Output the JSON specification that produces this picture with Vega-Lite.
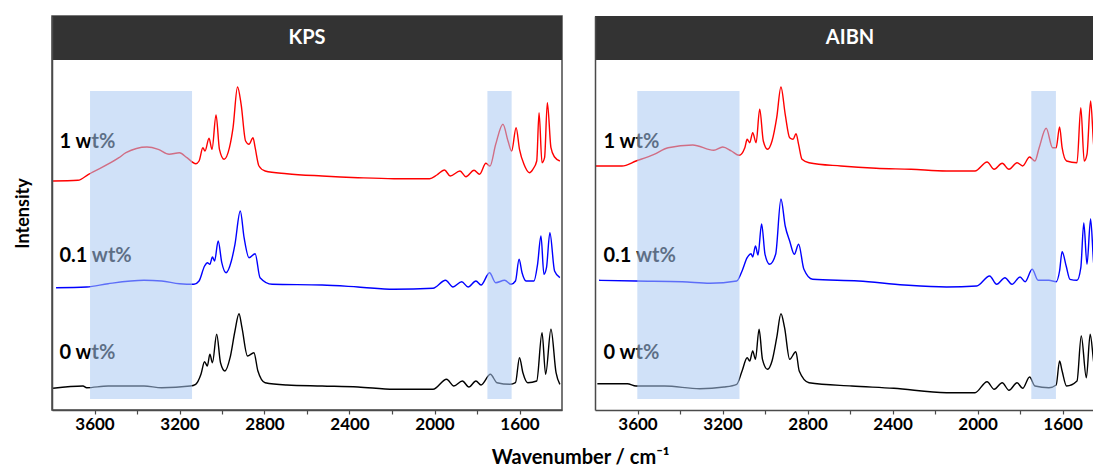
{
"$schema": "https://vega.github.io/schema/vega-lite/v6.json",
"autosize": {"type": "pad"},
"padding": {"left": 13, "top": 15, "right": 0, "bottom": 0},
"background": "white",
"config": {"font": "Lato", "view": {"stroke": null}},
"bounds": "flush",
"spacing": 33,
"title": {"text": "Wavenumber / cm⁻¹", "orient": "bottom", "anchor": "middle", "fontSize": 20, "fontWeight": "bold", "font": "Lato", "color": "#000000", "offset": 15, "dx": 27},
"datasets": {
"spectra": [
{"p":"KPS","s":"1 wt%","wn":3795,"v":229},{"p":"KPS","s":"1 wt%","wn":3678,"v":229.7},{"p":"KPS","s":"1 wt%","wn":3628,"v":235.7},{"p":"KPS","s":"1 wt%","wn":3485,"v":252.3},{"p":"KPS","s":"1 wt%","wn":3452,"v":257.3},{"p":"KPS","s":"1 wt%","wn":3353,"v":263},{"p":"KPS","s":"1 wt%","wn":3300,"v":260.7},{"p":"KPS","s":"1 wt%","wn":3249,"v":255.7},{"p":"KPS","s":"1 wt%","wn":3200,"v":257.3},{"p":"KPS","s":"1 wt%","wn":3165,"v":252.3},{"p":"KPS","s":"1 wt%","wn":3123,"v":246.3},{"p":"KPS","s":"1 wt%","wn":3108,"v":249},{"p":"KPS","s":"1 wt%","wn":3090,"v":262.3},{"p":"KPS","s":"1 wt%","wn":3080,"v":259},{"p":"KPS","s":"1 wt%","wn":3061,"v":271.7},{"p":"KPS","s":"1 wt%","wn":3047,"v":260.7},{"p":"KPS","s":"1 wt%","wn":3028,"v":295},{"p":"KPS","s":"1 wt%","wn":3012,"v":260.7},{"p":"KPS","s":"1 wt%","wn":2990,"v":250.7},{"p":"KPS","s":"1 wt%","wn":2965,"v":262.3},{"p":"KPS","s":"1 wt%","wn":2948,"v":282.3},{"p":"KPS","s":"1 wt%","wn":2927,"v":323},{"p":"KPS","s":"1 wt%","wn":2910,"v":305.7},{"p":"KPS","s":"1 wt%","wn":2889,"v":269},{"p":"KPS","s":"1 wt%","wn":2873,"v":265.7},{"p":"KPS","s":"1 wt%","wn":2854,"v":272.3},{"p":"KPS","s":"1 wt%","wn":2844,"v":262.3},{"p":"KPS","s":"1 wt%","wn":2826,"v":244},{"p":"KPS","s":"1 wt%","wn":2797,"v":239},{"p":"KPS","s":"1 wt%","wn":2695,"v":236.3},{"p":"KPS","s":"1 wt%","wn":2529,"v":234},{"p":"KPS","s":"1 wt%","wn":2360,"v":232.3},{"p":"KPS","s":"1 wt%","wn":2191,"v":231.3},{"p":"KPS","s":"1 wt%","wn":2023,"v":231.3},{"p":"KPS","s":"1 wt%","wn":1989,"v":235},{"p":"KPS","s":"1 wt%","wn":1953,"v":240},{"p":"KPS","s":"1 wt%","wn":1926,"v":234},{"p":"KPS","s":"1 wt%","wn":1880,"v":239},{"p":"KPS","s":"1 wt%","wn":1852,"v":233.3},{"p":"KPS","s":"1 wt%","wn":1814,"v":239.7},{"p":"KPS","s":"1 wt%","wn":1788,"v":235.7},{"p":"KPS","s":"1 wt%","wn":1758,"v":246.7},{"p":"KPS","s":"1 wt%","wn":1739,"v":244},{"p":"KPS","s":"1 wt%","wn":1712,"v":265.7},{"p":"KPS","s":"1 wt%","wn":1678,"v":285.7},{"p":"KPS","s":"1 wt%","wn":1654,"v":269},{"p":"KPS","s":"1 wt%","wn":1637,"v":259},{"p":"KPS","s":"1 wt%","wn":1616,"v":282.3},{"p":"KPS","s":"1 wt%","wn":1600,"v":260.7},{"p":"KPS","s":"1 wt%","wn":1579,"v":245.7},{"p":"KPS","s":"1 wt%","wn":1553,"v":237.3},{"p":"KPS","s":"1 wt%","wn":1537,"v":240.7},{"p":"KPS","s":"1 wt%","wn":1519,"v":249},{"p":"KPS","s":"1 wt%","wn":1508,"v":297.3},{"p":"KPS","s":"1 wt%","wn":1494,"v":247.3},{"p":"KPS","s":"1 wt%","wn":1482,"v":252.3},{"p":"KPS","s":"1 wt%","wn":1469,"v":307.3},{"p":"KPS","s":"1 wt%","wn":1452,"v":262.3},{"p":"KPS","s":"1 wt%","wn":1435,"v":253},{"p":"KPS","s":"1 wt%","wn":1410,"v":249},
{"p":"KPS","s":"0.1 wt%","wn":3781,"v":122.3},{"p":"KPS","s":"0.1 wt%","wn":3637,"v":123},{"p":"KPS","s":"0.1 wt%","wn":3536,"v":126.3},{"p":"KPS","s":"0.1 wt%","wn":3367,"v":129.7},{"p":"KPS","s":"0.1 wt%","wn":3284,"v":129},{"p":"KPS","s":"0.1 wt%","wn":3200,"v":126.3},{"p":"KPS","s":"0.1 wt%","wn":3132,"v":125.7},{"p":"KPS","s":"0.1 wt%","wn":3108,"v":129},{"p":"KPS","s":"0.1 wt%","wn":3082,"v":144},{"p":"KPS","s":"0.1 wt%","wn":3069,"v":147.3},{"p":"KPS","s":"0.1 wt%","wn":3057,"v":145.7},{"p":"KPS","s":"0.1 wt%","wn":3045,"v":153},{"p":"KPS","s":"0.1 wt%","wn":3035,"v":149},{"p":"KPS","s":"0.1 wt%","wn":3018,"v":169},{"p":"KPS","s":"0.1 wt%","wn":3001,"v":147.3},{"p":"KPS","s":"0.1 wt%","wn":2981,"v":137.3},{"p":"KPS","s":"0.1 wt%","wn":2956,"v":149},{"p":"KPS","s":"0.1 wt%","wn":2939,"v":165.7},{"p":"KPS","s":"0.1 wt%","wn":2914,"v":199},{"p":"KPS","s":"0.1 wt%","wn":2896,"v":172.3},{"p":"KPS","s":"0.1 wt%","wn":2873,"v":152.3},{"p":"KPS","s":"0.1 wt%","wn":2844,"v":156.3},{"p":"KPS","s":"0.1 wt%","wn":2821,"v":132.3},{"p":"KPS","s":"0.1 wt%","wn":2764,"v":125.7},{"p":"KPS","s":"0.1 wt%","wn":2529,"v":125},{"p":"KPS","s":"0.1 wt%","wn":2360,"v":123},{"p":"KPS","s":"0.1 wt%","wn":2191,"v":120.7},{"p":"KPS","s":"0.1 wt%","wn":2007,"v":121.7},{"p":"KPS","s":"0.1 wt%","wn":1948,"v":129.7},{"p":"KPS","s":"0.1 wt%","wn":1913,"v":123},{"p":"KPS","s":"0.1 wt%","wn":1872,"v":128.3},{"p":"KPS","s":"0.1 wt%","wn":1842,"v":123},{"p":"KPS","s":"0.1 wt%","wn":1805,"v":129},{"p":"KPS","s":"0.1 wt%","wn":1781,"v":125},{"p":"KPS","s":"0.1 wt%","wn":1741,"v":137.3},{"p":"KPS","s":"0.1 wt%","wn":1712,"v":127.3},{"p":"KPS","s":"0.1 wt%","wn":1670,"v":129.7},{"p":"KPS","s":"0.1 wt%","wn":1640,"v":125.7},{"p":"KPS","s":"0.1 wt%","wn":1619,"v":129},{"p":"KPS","s":"0.1 wt%","wn":1602,"v":150.7},{"p":"KPS","s":"0.1 wt%","wn":1588,"v":137.3},{"p":"KPS","s":"0.1 wt%","wn":1569,"v":129},{"p":"KPS","s":"0.1 wt%","wn":1532,"v":129},{"p":"KPS","s":"0.1 wt%","wn":1515,"v":145.7},{"p":"KPS","s":"0.1 wt%","wn":1499,"v":174},{"p":"KPS","s":"0.1 wt%","wn":1485,"v":135.7},{"p":"KPS","s":"0.1 wt%","wn":1473,"v":142.3},{"p":"KPS","s":"0.1 wt%","wn":1457,"v":177.3},{"p":"KPS","s":"0.1 wt%","wn":1435,"v":139},{"p":"KPS","s":"0.1 wt%","wn":1410,"v":132.3},
{"p":"KPS","s":"0 wt%","wn":3795,"v":21.7},{"p":"KPS","s":"0 wt%","wn":3654,"v":24},{"p":"KPS","s":"0 wt%","wn":3637,"v":22.3},{"p":"KPS","s":"0 wt%","wn":3536,"v":24},{"p":"KPS","s":"0 wt%","wn":3367,"v":24},{"p":"KPS","s":"0 wt%","wn":3284,"v":22.3},{"p":"KPS","s":"0 wt%","wn":3150,"v":24},{"p":"KPS","s":"0 wt%","wn":3124,"v":25.7},{"p":"KPS","s":"0 wt%","wn":3099,"v":35.7},{"p":"KPS","s":"0 wt%","wn":3082,"v":48.3},{"p":"KPS","s":"0 wt%","wn":3069,"v":44},{"p":"KPS","s":"0 wt%","wn":3057,"v":55.7},{"p":"KPS","s":"0 wt%","wn":3045,"v":47.3},{"p":"KPS","s":"0 wt%","wn":3025,"v":75.7},{"p":"KPS","s":"0 wt%","wn":3007,"v":47.3},{"p":"KPS","s":"0 wt%","wn":2986,"v":39},{"p":"KPS","s":"0 wt%","wn":2962,"v":52.3},{"p":"KPS","s":"0 wt%","wn":2939,"v":79},{"p":"KPS","s":"0 wt%","wn":2920,"v":96.3},{"p":"KPS","s":"0 wt%","wn":2906,"v":82.3},{"p":"KPS","s":"0 wt%","wn":2880,"v":54},{"p":"KPS","s":"0 wt%","wn":2850,"v":57.3},{"p":"KPS","s":"0 wt%","wn":2831,"v":39},{"p":"KPS","s":"0 wt%","wn":2797,"v":27.3},{"p":"KPS","s":"0 wt%","wn":2695,"v":25},{"p":"KPS","s":"0 wt%","wn":2529,"v":24},{"p":"KPS","s":"0 wt%","wn":2360,"v":23},{"p":"KPS","s":"0 wt%","wn":2191,"v":20.7},{"p":"KPS","s":"0 wt%","wn":2007,"v":20.7},{"p":"KPS","s":"0 wt%","wn":1943,"v":30.7},{"p":"KPS","s":"0 wt%","wn":1909,"v":24},{"p":"KPS","s":"0 wt%","wn":1869,"v":29},{"p":"KPS","s":"0 wt%","wn":1838,"v":23},{"p":"KPS","s":"0 wt%","wn":1805,"v":29},{"p":"KPS","s":"0 wt%","wn":1781,"v":25},{"p":"KPS","s":"0 wt%","wn":1737,"v":35.7},{"p":"KPS","s":"0 wt%","wn":1706,"v":27.3},{"p":"KPS","s":"0 wt%","wn":1645,"v":25.7},{"p":"KPS","s":"0 wt%","wn":1619,"v":27.3},{"p":"KPS","s":"0 wt%","wn":1600,"v":52.3},{"p":"KPS","s":"0 wt%","wn":1584,"v":37.3},{"p":"KPS","s":"0 wt%","wn":1561,"v":27.3},{"p":"KPS","s":"0 wt%","wn":1519,"v":29},{"p":"KPS","s":"0 wt%","wn":1494,"v":77.3},{"p":"KPS","s":"0 wt%","wn":1477,"v":35.7},{"p":"KPS","s":"0 wt%","wn":1452,"v":80.7},{"p":"KPS","s":"0 wt%","wn":1428,"v":37.3},{"p":"KPS","s":"0 wt%","wn":1410,"v":25.7},
{"p":"AIBN","s":"1 wt%","wn":3797,"v":244},{"p":"AIBN","s":"1 wt%","wn":3673,"v":244},{"p":"AIBN","s":"1 wt%","wn":3607,"v":249},{"p":"AIBN","s":"1 wt%","wn":3522,"v":255.7},{"p":"AIBN","s":"1 wt%","wn":3456,"v":262.3},{"p":"AIBN","s":"1 wt%","wn":3340,"v":265},{"p":"AIBN","s":"1 wt%","wn":3241,"v":259.7},{"p":"AIBN","s":"1 wt%","wn":3199,"v":263},{"p":"AIBN","s":"1 wt%","wn":3158,"v":259},{"p":"AIBN","s":"1 wt%","wn":3122,"v":254.7},{"p":"AIBN","s":"1 wt%","wn":3095,"v":262.3},{"p":"AIBN","s":"1 wt%","wn":3084,"v":270.7},{"p":"AIBN","s":"1 wt%","wn":3072,"v":267.3},{"p":"AIBN","s":"1 wt%","wn":3058,"v":277.3},{"p":"AIBN","s":"1 wt%","wn":3042,"v":267.3},{"p":"AIBN","s":"1 wt%","wn":3025,"v":300.7},{"p":"AIBN","s":"1 wt%","wn":3008,"v":269},{"p":"AIBN","s":"1 wt%","wn":2988,"v":260.7},{"p":"AIBN","s":"1 wt%","wn":2967,"v":269},{"p":"AIBN","s":"1 wt%","wn":2945,"v":292.3},{"p":"AIBN","s":"1 wt%","wn":2925,"v":323},{"p":"AIBN","s":"1 wt%","wn":2905,"v":295.7},{"p":"AIBN","s":"1 wt%","wn":2884,"v":272.3},{"p":"AIBN","s":"1 wt%","wn":2868,"v":270.7},{"p":"AIBN","s":"1 wt%","wn":2854,"v":276.3},{"p":"AIBN","s":"1 wt%","wn":2842,"v":265.7},{"p":"AIBN","s":"1 wt%","wn":2826,"v":250.7},{"p":"AIBN","s":"1 wt%","wn":2793,"v":247.3},{"p":"AIBN","s":"1 wt%","wn":2643,"v":244},{"p":"AIBN","s":"1 wt%","wn":2477,"v":241.7},{"p":"AIBN","s":"1 wt%","wn":2313,"v":240.7},{"p":"AIBN","s":"1 wt%","wn":2146,"v":239},{"p":"AIBN","s":"1 wt%","wn":2012,"v":239},{"p":"AIBN","s":"1 wt%","wn":1955,"v":248},{"p":"AIBN","s":"1 wt%","wn":1922,"v":240.7},{"p":"AIBN","s":"1 wt%","wn":1884,"v":246.7},{"p":"AIBN","s":"1 wt%","wn":1852,"v":240.7},{"p":"AIBN","s":"1 wt%","wn":1814,"v":247.3},{"p":"AIBN","s":"1 wt%","wn":1788,"v":244},{"p":"AIBN","s":"1 wt%","wn":1755,"v":253},{"p":"AIBN","s":"1 wt%","wn":1730,"v":249},{"p":"AIBN","s":"1 wt%","wn":1710,"v":262.3},{"p":"AIBN","s":"1 wt%","wn":1677,"v":281.7},{"p":"AIBN","s":"1 wt%","wn":1647,"v":262.3},{"p":"AIBN","s":"1 wt%","wn":1630,"v":262.3},{"p":"AIBN","s":"1 wt%","wn":1614,"v":283},{"p":"AIBN","s":"1 wt%","wn":1602,"v":262.3},{"p":"AIBN","s":"1 wt%","wn":1581,"v":249},{"p":"AIBN","s":"1 wt%","wn":1532,"v":247.3},{"p":"AIBN","s":"1 wt%","wn":1514,"v":302.3},{"p":"AIBN","s":"1 wt%","wn":1498,"v":249},{"p":"AIBN","s":"1 wt%","wn":1485,"v":255.7},{"p":"AIBN","s":"1 wt%","wn":1468,"v":309},{"p":"AIBN","s":"1 wt%","wn":1452,"v":262.3},{"p":"AIBN","s":"1 wt%","wn":1435,"v":253},{"p":"AIBN","s":"1 wt%","wn":1410,"v":249},
{"p":"AIBN","s":"0.1 wt%","wn":3781,"v":129.7},{"p":"AIBN","s":"0.1 wt%","wn":3607,"v":129},{"p":"AIBN","s":"0.1 wt%","wn":3390,"v":128.3},{"p":"AIBN","s":"0.1 wt%","wn":3259,"v":126.7},{"p":"AIBN","s":"0.1 wt%","wn":3133,"v":129},{"p":"AIBN","s":"0.1 wt%","wn":3108,"v":139},{"p":"AIBN","s":"0.1 wt%","wn":3084,"v":152.3},{"p":"AIBN","s":"0.1 wt%","wn":3066,"v":156.3},{"p":"AIBN","s":"0.1 wt%","wn":3058,"v":153},{"p":"AIBN","s":"0.1 wt%","wn":3045,"v":164},{"p":"AIBN","s":"0.1 wt%","wn":3033,"v":155},{"p":"AIBN","s":"0.1 wt%","wn":3016,"v":186},{"p":"AIBN","s":"0.1 wt%","wn":3000,"v":155.7},{"p":"AIBN","s":"0.1 wt%","wn":2978,"v":145.7},{"p":"AIBN","s":"0.1 wt%","wn":2950,"v":155.7},{"p":"AIBN","s":"0.1 wt%","wn":2925,"v":211},{"p":"AIBN","s":"0.1 wt%","wn":2905,"v":184},{"p":"AIBN","s":"0.1 wt%","wn":2884,"v":169},{"p":"AIBN","s":"0.1 wt%","wn":2862,"v":155.7},{"p":"AIBN","s":"0.1 wt%","wn":2842,"v":165.7},{"p":"AIBN","s":"0.1 wt%","wn":2817,"v":140.7},{"p":"AIBN","s":"0.1 wt%","wn":2776,"v":130.7},{"p":"AIBN","s":"0.1 wt%","wn":2560,"v":129},{"p":"AIBN","s":"0.1 wt%","wn":2345,"v":125},{"p":"AIBN","s":"0.1 wt%","wn":2146,"v":123},{"p":"AIBN","s":"0.1 wt%","wn":2004,"v":124},{"p":"AIBN","s":"0.1 wt%","wn":1943,"v":134},{"p":"AIBN","s":"0.1 wt%","wn":1910,"v":125.7},{"p":"AIBN","s":"0.1 wt%","wn":1871,"v":132.3},{"p":"AIBN","s":"0.1 wt%","wn":1838,"v":125.7},{"p":"AIBN","s":"0.1 wt%","wn":1800,"v":133},{"p":"AIBN","s":"0.1 wt%","wn":1776,"v":128.3},{"p":"AIBN","s":"0.1 wt%","wn":1743,"v":140.7},{"p":"AIBN","s":"0.1 wt%","wn":1715,"v":129.7},{"p":"AIBN","s":"0.1 wt%","wn":1664,"v":129.7},{"p":"AIBN","s":"0.1 wt%","wn":1630,"v":128.3},{"p":"AIBN","s":"0.1 wt%","wn":1614,"v":139},{"p":"AIBN","s":"0.1 wt%","wn":1602,"v":158.3},{"p":"AIBN","s":"0.1 wt%","wn":1583,"v":144},{"p":"AIBN","s":"0.1 wt%","wn":1565,"v":130.7},{"p":"AIBN","s":"0.1 wt%","wn":1532,"v":129.7},{"p":"AIBN","s":"0.1 wt%","wn":1514,"v":142.3},{"p":"AIBN","s":"0.1 wt%","wn":1500,"v":187},{"p":"AIBN","s":"0.1 wt%","wn":1485,"v":145.7},{"p":"AIBN","s":"0.1 wt%","wn":1468,"v":191},{"p":"AIBN","s":"0.1 wt%","wn":1452,"v":144},{"p":"AIBN","s":"0.1 wt%","wn":1435,"v":137},{"p":"AIBN","s":"0.1 wt%","wn":1410,"v":131},
{"p":"AIBN","s":"0 wt%","wn":3789,"v":26.3},{"p":"AIBN","s":"0 wt%","wn":3648,"v":26.3},{"p":"AIBN","s":"0 wt%","wn":3607,"v":24},{"p":"AIBN","s":"0 wt%","wn":3473,"v":24},{"p":"AIBN","s":"0 wt%","wn":3307,"v":21.3},{"p":"AIBN","s":"0 wt%","wn":3193,"v":23},{"p":"AIBN","s":"0 wt%","wn":3133,"v":25.7},{"p":"AIBN","s":"0 wt%","wn":3108,"v":39},{"p":"AIBN","s":"0 wt%","wn":3084,"v":52.3},{"p":"AIBN","s":"0 wt%","wn":3072,"v":49},{"p":"AIBN","s":"0 wt%","wn":3058,"v":59},{"p":"AIBN","s":"0 wt%","wn":3045,"v":50.7},{"p":"AIBN","s":"0 wt%","wn":3028,"v":80.7},{"p":"AIBN","s":"0 wt%","wn":3012,"v":50.7},{"p":"AIBN","s":"0 wt%","wn":2988,"v":40.7},{"p":"AIBN","s":"0 wt%","wn":2967,"v":49},{"p":"AIBN","s":"0 wt%","wn":2945,"v":72.3},{"p":"AIBN","s":"0 wt%","wn":2925,"v":96.3},{"p":"AIBN","s":"0 wt%","wn":2908,"v":82.3},{"p":"AIBN","s":"0 wt%","wn":2884,"v":50.7},{"p":"AIBN","s":"0 wt%","wn":2855,"v":58.3},{"p":"AIBN","s":"0 wt%","wn":2839,"v":39},{"p":"AIBN","s":"0 wt%","wn":2793,"v":27.3},{"p":"AIBN","s":"0 wt%","wn":2592,"v":24},{"p":"AIBN","s":"0 wt%","wn":2394,"v":21.7},{"p":"AIBN","s":"0 wt%","wn":2146,"v":17.3},{"p":"AIBN","s":"0 wt%","wn":2012,"v":17.3},{"p":"AIBN","s":"0 wt%","wn":1955,"v":28.3},{"p":"AIBN","s":"0 wt%","wn":1922,"v":20.7},{"p":"AIBN","s":"0 wt%","wn":1884,"v":27.3},{"p":"AIBN","s":"0 wt%","wn":1852,"v":19.7},{"p":"AIBN","s":"0 wt%","wn":1814,"v":27.3},{"p":"AIBN","s":"0 wt%","wn":1788,"v":21.7},{"p":"AIBN","s":"0 wt%","wn":1755,"v":33},{"p":"AIBN","s":"0 wt%","wn":1730,"v":24},{"p":"AIBN","s":"0 wt%","wn":1664,"v":22.3},{"p":"AIBN","s":"0 wt%","wn":1630,"v":25},{"p":"AIBN","s":"0 wt%","wn":1614,"v":49},{"p":"AIBN","s":"0 wt%","wn":1602,"v":39},{"p":"AIBN","s":"0 wt%","wn":1581,"v":24},{"p":"AIBN","s":"0 wt%","wn":1532,"v":29},{"p":"AIBN","s":"0 wt%","wn":1512,"v":74},{"p":"AIBN","s":"0 wt%","wn":1488,"v":32.3},{"p":"AIBN","s":"0 wt%","wn":1470,"v":75.7},{"p":"AIBN","s":"0 wt%","wn":1452,"v":45.7},{"p":"AIBN","s":"0 wt%","wn":1435,"v":34},{"p":"AIBN","s":"0 wt%","wn":1410,"v":26}
],
"bands": [
{"p":"KPS","wn0":3621,"wn1":3141,"y0":11,"y1":319},{"p":"KPS","wn0":1751,"wn1":1637,"y0":11,"y1":319},
{"p":"AIBN","wn0":3601,"wn1":3120,"y0":11,"y1":319},{"p":"AIBN","wn0":1747,"wn1":1631,"y0":11,"y1":319}
],
"labels": [
{"p":"KPS","wn":3765,"v":268,"label":"1 wt%"},{"p":"KPS","wn":3765,"v":154,"label":"0.1 wt%"},{"p":"KPS","wn":3765,"v":57,"label":"0 wt%"},
{"p":"AIBN","wn":3760,"v":268,"label":"1 wt%"},{"p":"AIBN","wn":3760,"v":154,"label":"0.1 wt%"},{"p":"AIBN","wn":3760,"v":57,"label":"0 wt%"}
],
"headers": [
{"p":"KPS","wn":2600,"y0":350,"y1":394,"yc":372,"label":"KPS"},
{"p":"AIBN","wn":2600,"y0":350,"y1":394,"yc":372,"label":"AIBN"}
]
},
"hconcat": [
{
"width": 510, "height": 394,
"view": {"stroke": "#4a4a4a", "strokeWidth": 1.5},
"layer": [
{"data": {"name": "headers"}, "transform": [{"filter": "datum.p === 'KPS'"}],
 "mark": {"type": "rect", "color": "#333333"},
 "encoding": {"y": {"field": "y0", "type": "quantitative", "scale": {"domain": [0, 394], "nice": false, "zero": false},
   "axis": {"title": "Intensity", "labels": false, "ticks": false, "domain": true, "domainColor": "#4a4a4a", "domainWidth": 1.5, "grid": false, "titleFontSize": 18, "titleFontWeight": "bold", "titleFont": "Lato", "titleColor": "#000000", "titlePadding": 20, "zindex": 1}},
  "y2": {"field": "y1"}}},
{"data": {"name": "headers"}, "transform": [{"filter": "datum.p === 'KPS'"}],
 "mark": {"type": "text", "color": "#ffffff", "fontSize": 20, "fontWeight": "bold", "font": "Lato", "baseline": "middle", "align": "center"},
 "encoding": {"x": {"field": "wn", "type": "quantitative", "scale": {"domain": [1400, 3800], "reverse": true, "nice": false, "zero": false}},
  "y": {"field": "yc", "type": "quantitative", "scale": {"domain": [0, 394], "nice": false, "zero": false}},
  "text": {"field": "label"}}},
{"data": {"name": "spectra"}, "transform": [{"filter": "datum.p === 'KPS'"}],
 "mark": {"type": "line", "strokeWidth": 1.4, "clip": true, "interpolate": "monotone"},
 "encoding": {"x": {"field": "wn", "type": "quantitative", "scale": {"domain": [1400, 3800], "reverse": true, "nice": false, "zero": false},
   "axis": {"title": null, "values": [3600, 3400, 3200, 3000, 2800, 2600, 2400, 2200, 2000, 1800, 1600], "format": "d", "labelExpr": "datum.value % 400 === 0 ? datum.label : ''", "labelFontSize": 17, "labelFontWeight": "bold", "labelFont": "Lato", "labelColor": "#000000", "tickSize": 4, "tickColor": "#4a4a4a", "tickWidth": 1.2, "domainColor": "#4a4a4a", "domainWidth": 1.5, "grid": false, "labelPadding": 2, "zindex": 1}},
  "y": {"field": "v", "type": "quantitative", "scale": {"domain": [0, 394], "nice": false, "zero": false}},
  "color": {"field": "s", "type": "nominal", "scale": {"domain": ["1 wt%", "0.1 wt%", "0 wt%"], "range": ["#ff0000", "#0000ff", "#000000"]}, "legend": null},
  "detail": {"field": "s"}}},
{"data": {"name": "labels"}, "transform": [{"filter": "datum.p === 'KPS'"}],
 "mark": {"type": "text", "color": "#000000", "fontSize": 20, "fontWeight": "bold", "font": "Lato", "baseline": "middle", "align": "left"},
 "encoding": {"x": {"field": "wn", "type": "quantitative", "scale": {"domain": [1400, 3800], "reverse": true, "nice": false, "zero": false}},
  "y": {"field": "v", "type": "quantitative", "scale": {"domain": [0, 394], "nice": false, "zero": false}},
  "text": {"field": "label"}}},
{"data": {"name": "bands"}, "transform": [{"filter": "datum.p === 'KPS'"}],
 "mark": {"type": "rect", "color": "#a9c8f3", "opacity": 0.55},
 "encoding": {"x": {"field": "wn0", "type": "quantitative", "scale": {"domain": [1400, 3800], "reverse": true, "nice": false, "zero": false}},
  "x2": {"field": "wn1"},
  "y": {"field": "y0", "type": "quantitative", "scale": {"domain": [0, 394], "nice": false, "zero": false}},
  "y2": {"field": "y1"}}}
]
},
{
"width": 499, "height": 394,
"view": {"stroke": null},
"layer": [
{"data": {"name": "headers"}, "transform": [{"filter": "datum.p === 'AIBN'"}],
 "mark": {"type": "rect", "color": "#333333"},
 "encoding": {"y": {"field": "y0", "type": "quantitative", "scale": {"domain": [0, 394], "nice": false, "zero": false},
   "axis": {"title": null, "labels": false, "ticks": false, "domain": true, "domainColor": "#4a4a4a", "domainWidth": 1.5, "grid": false, "zindex": 1}},
  "y2": {"field": "y1"}}},
{"data": {"name": "headers"}, "transform": [{"filter": "datum.p === 'AIBN'"}],
 "mark": {"type": "text", "color": "#ffffff", "fontSize": 20, "fontWeight": "bold", "font": "Lato", "baseline": "middle", "align": "center"},
 "encoding": {"x": {"field": "wn", "type": "quantitative", "scale": {"domain": [1452, 3800], "reverse": true, "nice": false, "zero": false}},
  "y": {"field": "yc", "type": "quantitative", "scale": {"domain": [0, 394], "nice": false, "zero": false}},
  "text": {"field": "label"}}},
{"data": {"name": "spectra"}, "transform": [{"filter": "datum.p === 'AIBN'"}],
 "mark": {"type": "line", "strokeWidth": 1.4, "clip": true, "interpolate": "monotone"},
 "encoding": {"x": {"field": "wn", "type": "quantitative", "scale": {"domain": [1452, 3800], "reverse": true, "nice": false, "zero": false},
   "axis": {"title": null, "values": [3600, 3400, 3200, 3000, 2800, 2600, 2400, 2200, 2000, 1800, 1600], "format": "d", "labelExpr": "datum.value % 400 === 0 ? datum.label : ''", "labelFontSize": 17, "labelFontWeight": "bold", "labelFont": "Lato", "labelColor": "#000000", "tickSize": 4, "tickColor": "#4a4a4a", "tickWidth": 1.2, "domainColor": "#4a4a4a", "domainWidth": 1.5, "grid": false, "labelPadding": 2, "zindex": 1}},
  "y": {"field": "v", "type": "quantitative", "scale": {"domain": [0, 394], "nice": false, "zero": false}},
  "color": {"field": "s", "type": "nominal", "scale": {"domain": ["1 wt%", "0.1 wt%", "0 wt%"], "range": ["#ff0000", "#0000ff", "#000000"]}, "legend": null},
  "detail": {"field": "s"}}},
{"data": {"name": "labels"}, "transform": [{"filter": "datum.p === 'AIBN'"}],
 "mark": {"type": "text", "color": "#000000", "fontSize": 20, "fontWeight": "bold", "font": "Lato", "baseline": "middle", "align": "left"},
 "encoding": {"x": {"field": "wn", "type": "quantitative", "scale": {"domain": [1452, 3800], "reverse": true, "nice": false, "zero": false}},
  "y": {"field": "v", "type": "quantitative", "scale": {"domain": [0, 394], "nice": false, "zero": false}},
  "text": {"field": "label"}}},
{"data": {"name": "bands"}, "transform": [{"filter": "datum.p === 'AIBN'"}],
 "mark": {"type": "rect", "color": "#a9c8f3", "opacity": 0.55},
 "encoding": {"x": {"field": "wn0", "type": "quantitative", "scale": {"domain": [1452, 3800], "reverse": true, "nice": false, "zero": false}},
  "x2": {"field": "wn1"},
  "y": {"field": "y0", "type": "quantitative", "scale": {"domain": [0, 394], "nice": false, "zero": false}},
  "y2": {"field": "y1"}}}
]
}
]
}
